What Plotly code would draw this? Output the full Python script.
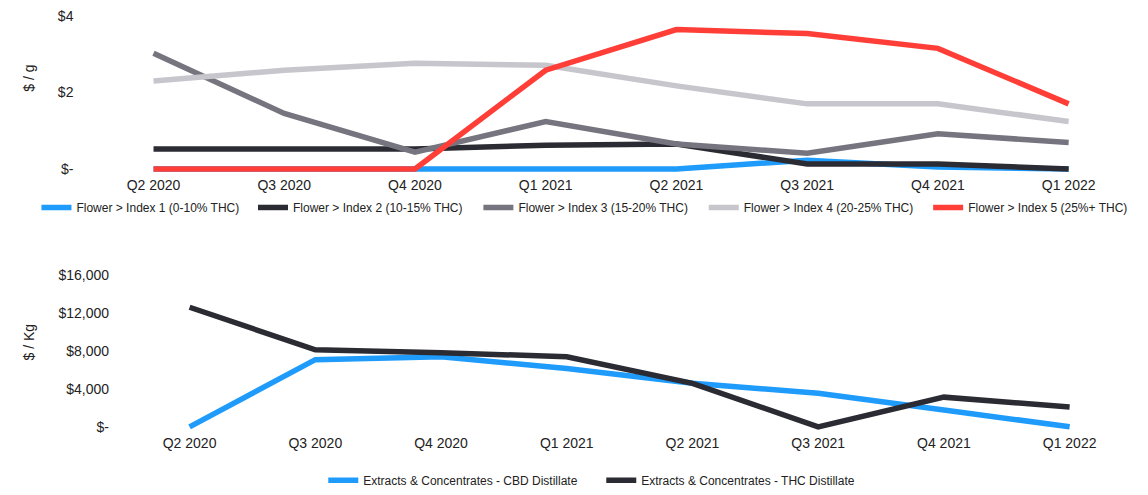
import plotly.graph_objects as go

quarters = ["Q2 2020", "Q3 2020", "Q4 2020", "Q1 2021", "Q2 2021", "Q3 2021", "Q4 2021", "Q1 2022"]

flower_names = [
    "Flower > Index 1 (0-10% THC)",
    "Flower > Index 2 (10-15% THC)",
    "Flower > Index 3 (15-20% THC)",
    "Flower > Index 4 (20-25% THC)",
    "Flower > Index 5 (25%+ THC)",
]
index1 = [0, 0, 0, 0, 0, 0.23, 0.05, 0]
index2 = [0.52, 0.52, 0.52, 0.62, 0.65, 0.13, 0.13, 0.0]
index3 = [3.02, 1.45, 0.44, 1.24, 0.65, 0.41, 0.92, 0.69]
index4 = [2.30, 2.58, 2.76, 2.71, 2.17, 1.70, 1.70, 1.24]
index5 = [0, 0, 0, 2.58, 3.64, 3.54, 3.15, 1.70]

extract_names = [
    "Extracts & Concentrates - CBD Distillate",
    "Extracts & Concentrates - THC Distillate",
]
cbd = [0, 7060, 7370, 6130, 4570, 3530, 1770, 0]
thc = [12570, 8100, 7790, 7370, 4570, 0, 3120, 2080]

top_tickvals = [0, 2, 4]
top_ticktext = ["$-", "$2", "$4"]
bot_tickvals = [0, 4000, 8000, 12000, 16000]
bot_ticktext = ["$-", "$4,000", "$8,000", "$12,000", "$16,000"]

flower_colors = ["#1f9bfb", "#2b2b33", "#76757f", "#c6c6cc", "#ff3e38"]
extract_colors = ["#1f9bfb", "#2b2b33"]
flower_legends = ["legend", "legend3", "legend4", "legend5", "legend6"]
flower_text_x = [63, 285, 516, 747, 977]   # pixel where each legend label starts

FONT = "Liberation Sans, Arial, sans-serif"

fig = go.Figure()
for name, vals, col, lg in zip(flower_names, [index1, index2, index3, index4, index5],
                               flower_colors, flower_legends):
    fig.add_trace(go.Scatter(x=quarters, y=vals, name=name, mode="lines",
                             line=dict(color=col, width=5.5), xaxis="x", yaxis="y",
                             legend=lg))
for name, vals, col in zip(extract_names, [cbd, thc], extract_colors):
    fig.add_trace(go.Scatter(x=quarters, y=vals, name=name, mode="lines",
                             line=dict(color=col, width=5.5), xaxis="x2", yaxis="y2",
                             legend="legend2"))

W, H = 1148, 495

def xd(a, b):
    return [a / W, b / W]

def yd(top, bottom):
    return [(H - bottom) / H, (H - top) / H]

axis_common = dict(showgrid=False, zeroline=False, showline=False, ticks="",
                   tickfont=dict(family=FONT, size=14, color="#222"))

legend_common = dict(orientation="h", xanchor="left", yanchor="middle",
                     entrywidthmode="pixels", itemwidth=30,
                     font=dict(family=FONT, size=12, color="#222"),
                     bgcolor="rgba(0,0,0,0)")

layout_legends = {}
for lg, tx in zip(flower_legends, flower_text_x):
    layout_legends[lg] = dict(x=(tx - 40) / W, y=(H - 208) / H, **legend_common)
layout_legends["legend2"] = dict(x=317 / W, y=(H - 484) / H, entrywidth=233, **legend_common)

fig.update_layout(
    width=W, height=H,
    margin=dict(l=0, r=0, t=0, b=0),
    paper_bgcolor="white", plot_bgcolor="white",
    font=dict(family=FONT, color="#222"),
    xaxis=dict(domain=xd(129.6, 1094.4), anchor="y", type="category",
               categoryorder="array", categoryarray=quarters,
               range=[-0.1, 7.1], **axis_common),
    yaxis=dict(domain=yd(8.2, 174.8), anchor="x", range=[-0.15, 4.15],
               tickvals=top_tickvals, ticktext=top_ticktext,
               ticklabelstandoff=66, **axis_common),
    xaxis2=dict(domain=xd(167.1, 1094.9), anchor="y2", type="category",
                categoryorder="array", categoryarray=quarters,
                range=[-0.1, 7.1], **axis_common),
    yaxis2=dict(domain=yd(270.2, 435.8), anchor="x2", range=[-600, 16600],
                tickvals=bot_tickvals, ticktext=bot_ticktext,
                ticklabelstandoff=67, **axis_common),
    showlegend=True,
    annotations=[
        dict(text="$ / g", x=15 / W, y=(H - 77) / H, xref="paper", yref="paper",
             textangle=-90, showarrow=False, font=dict(family=FONT, size=14, color="#222"),
             xanchor="center", yanchor="middle"),
        dict(text="$ / Kg", x=15 / W, y=(H - 344) / H, xref="paper", yref="paper",
             textangle=-90, showarrow=False, font=dict(family=FONT, size=14, color="#222"),
             xanchor="center", yanchor="middle"),
    ],
    **layout_legends,
)

fig.write_html("out.html")
